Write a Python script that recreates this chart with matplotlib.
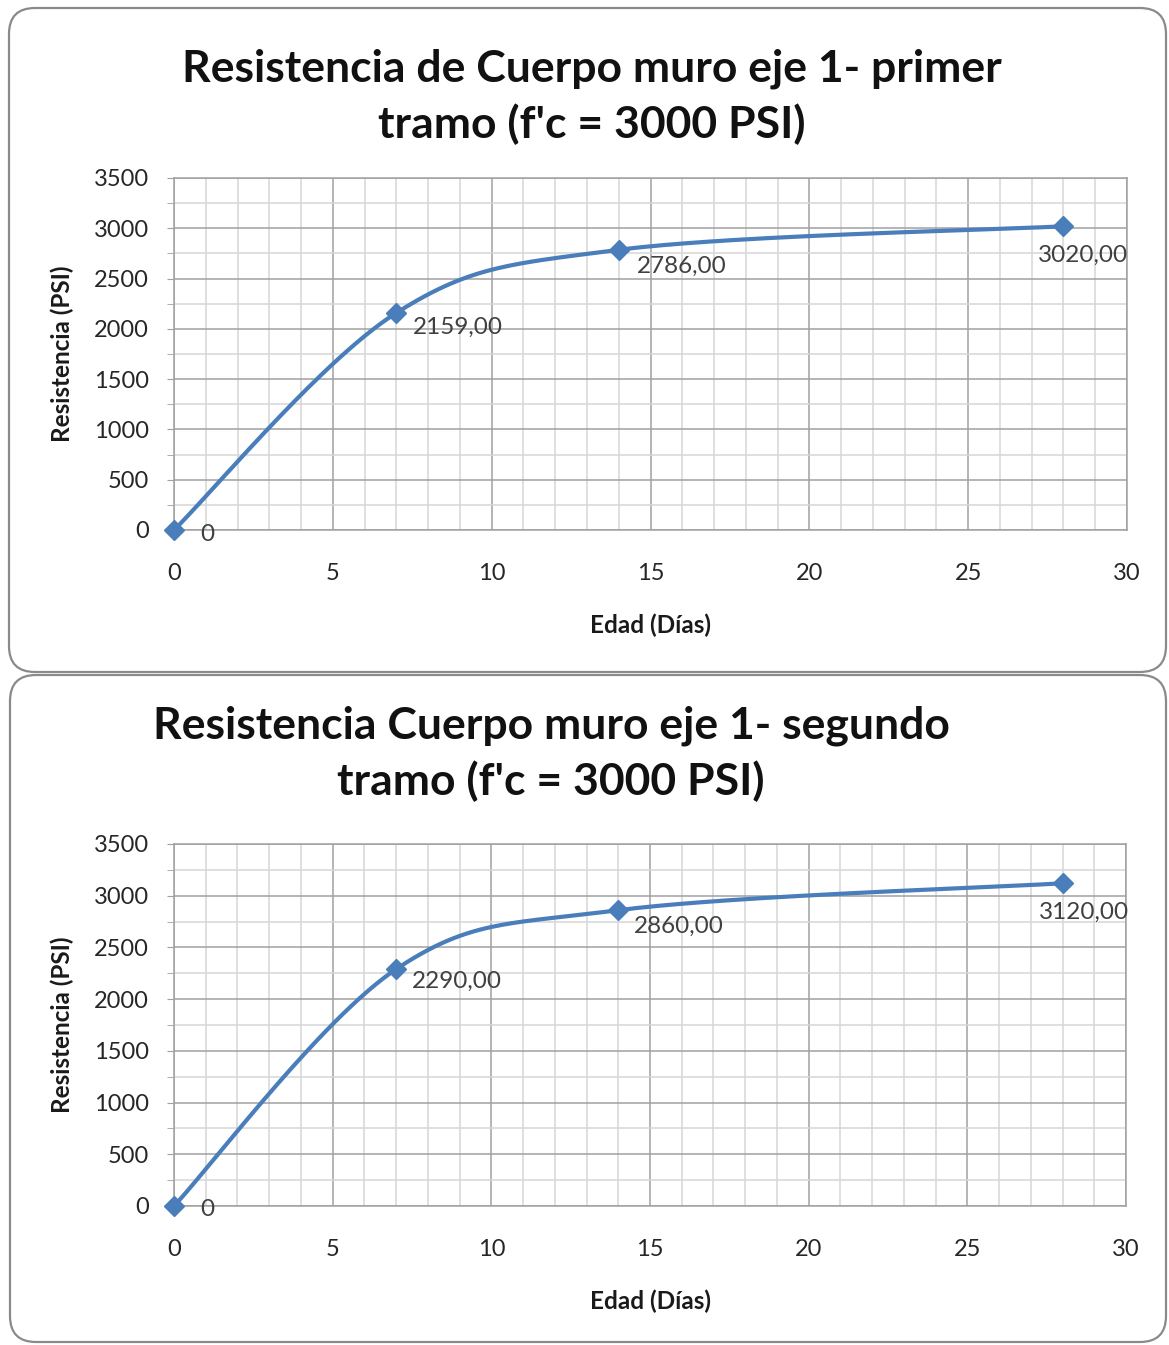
import numpy as np
import matplotlib
matplotlib.use('Agg')
import matplotlib.pyplot as plt
from matplotlib.patches import FancyBboxPatch
from matplotlib.transforms import IdentityTransform
from matplotlib.ticker import MultipleLocator

matplotlib.rcParams['font.family'] = ['Lato', 'DejaVu Sans']

# curing age (days) and compressive strength (PSI)
edad = [0, 7, 14, 28]
resist_tramo1 = [0, 2159, 2786, 3020]
resist_tramo2 = [0, 2290, 2860, 3120]
etiquetas_tramo1 = ['0', '2159,00', '2786,00', '3020,00']
etiquetas_tramo2 = ['0', '2290,00', '2860,00', '3120,00']

titulo1 = "Resistencia de Cuerpo muro eje 1- primer\ntramo (f'c = 3000 PSI)"
titulo2 = "Resistencia Cuerpo muro eje 1- segundo\ntramo (f'c = 3000 PSI)"

LINE_COLOR = '#4a7ebb'
W, H = 1169, 1345


def smooth_curve(x, y, sx, sy, n=60):
    # Catmull-Rom style bezier through the points, in screen-like units
    pts = np.column_stack([np.asarray(x, float) * sx, np.asarray(y, float) * sy])
    t = np.linspace(0, 1, n)[:, None]
    out = []
    for i in range(len(pts) - 1):
        p0 = pts[max(i - 1, 0)]
        p1 = pts[i]
        p2 = pts[i + 1]
        p3 = pts[min(i + 2, len(pts) - 1)]
        c1 = p1 + (p2 - p0) / 6
        c2 = p2 - (p3 - p1) / 6
        seg = ((1 - t) ** 3 * p1 + 3 * (1 - t) ** 2 * t * c1
               + 3 * (1 - t) * t ** 2 * c2 + t ** 3 * p2)
        out.append(seg if i == 0 else seg[1:])
    out = np.vstack(out)
    return out[:, 0] / sx, out[:, 1] / sy


def px(v):
    # pixels -> points at dpi 100
    return v * 0.72


def draw_chart(fig, rect, x, y, labels, offsets):
    ax = fig.add_axes(rect)
    ax.set_xlim(0, 30)
    ax.set_ylim(0, 3500)
    ax.xaxis.set_major_locator(MultipleLocator(5))
    ax.xaxis.set_minor_locator(MultipleLocator(1))
    ax.yaxis.set_major_locator(MultipleLocator(500))
    ax.yaxis.set_minor_locator(MultipleLocator(250))
    ax.grid(which='minor', color='#d6d6d6', linewidth=1.1)
    ax.grid(which='major', color='#a0a0a0', linewidth=1.1)
    ax.set_axisbelow(True)
    for sp in ax.spines.values():
        sp.set_color('#a0a0a0')
        sp.set_linewidth(1.1)

    ax.tick_params(axis='x', which='both', length=0, pad=px(33),
                   labelsize=17, labelcolor='#262626')
    ax.tick_params(axis='y', which='both', length=5, color='#a0a0a0',
                   pad=px(18), labelsize=17, labelcolor='#262626')

    bbox = ax.get_window_extent()
    sx = bbox.width / 30
    sy = bbox.height / 3500
    xs, ys = smooth_curve(x, y, sx, sy)
    ax.plot(xs, ys, color=LINE_COLOR, linewidth=3, solid_capstyle='round',
            clip_on=False, zorder=3)
    ax.plot(x, y, linestyle='none', marker='D', markersize=10,
            color=LINE_COLOR, clip_on=False, zorder=4)

    for xi, yi, lab, (dx, dy, ha) in zip(x, y, labels, offsets):
        ax.annotate(lab, (xi, yi), xytext=(px(dx), -px(dy)),
                    textcoords='offset points', ha=ha, va='center',
                    fontsize=17.5, color='#404040', zorder=5)

    ax.set_xlabel('Edad (Días)', fontsize=17.5, fontweight='bold',
                  color='#1a1a1a', labelpad=px(30))
    ax.set_ylabel('Resistencia (PSI)', fontsize=17.5, fontweight='bold',
                  color='#1a1a1a', labelpad=px(20))
    return ax


def frame(fig, x0, y0, x1, y1):
    # rounded chart-area border, given in image pixel coords
    box = FancyBboxPatch((x0, H - y1), x1 - x0, y1 - y0,
                         boxstyle='round,pad=0,rounding_size=26',
                         transform=IdentityTransform(), facecolor='none',
                         edgecolor='#8a8a8a', linewidth=1.6, zorder=0)
    fig.patches.append(box)


def main():
    fig = plt.figure(figsize=(W / 100, H / 100), dpi=100)
    fig.patch.set_facecolor('white')

    frame(fig, 9, 8, 1166, 672)
    frame(fig, 10, 675, 1166, 1342)

    off1 = [(26, 5, 'left'), (17, 14, 'left'), (18, 17, 'left'), (20, 29, 'center')]
    off2 = [(26, 4, 'left'), (16, 12, 'left'), (16, 16, 'left'), (21, 29, 'center')]

    draw_chart(fig, [174 / W, 1 - 530 / H, 953 / W, 352 / H],
               edad, resist_tramo1, etiquetas_tramo1, off1)
    draw_chart(fig, [174 / W, 1 - 1206 / H, 952 / W, 362 / H],
               edad, resist_tramo2, etiquetas_tramo2, off2)

    fig.text(592 / W, 1 - 97 / H, titulo1, ha='center', va='center',
             fontsize=32, fontweight='bold', color='#111111', linespacing=1.42)
    fig.text(551 / W, 1 - 754 / H, titulo2, ha='center', va='center',
             fontsize=32, fontweight='bold', color='#111111', linespacing=1.42)

    fig.savefig('out.png', dpi=100, facecolor='white')


if __name__ == '__main__':
    main()
